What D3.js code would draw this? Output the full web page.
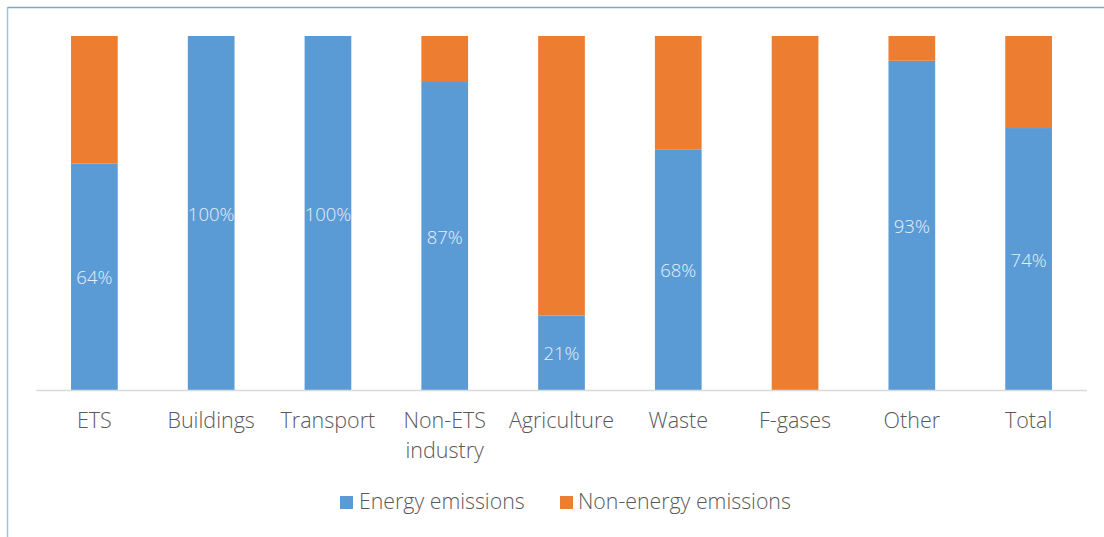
<!DOCTYPE html>
<html><head><meta charset="utf-8">
<script src="https://cdn.jsdelivr.net/npm/d3@7"></script>
<style>body{margin:0;background:#fff;} text{font-family:"Open Sans",sans-serif;}</style>
</head><body>
<svg id="c" width="1104" height="537"></svg>
<script>
const categories = ["ETS","Buildings","Transport","Non-ETS industry","Agriculture","Waste","F-gases","Other","Total"];
const energy = [64,100,100,87,21,68,0,93,74];
const nonEnergy = [36,0,0,13,79,32,100,7,26];
const seriesNames = ["Energy emissions","Non-energy emissions"];
const colors = ["#5b9bd5","#ed7d31"];

const svg = d3.select("#c");
// frame
svg.append("line").attr("x1",7.5).attr("x2",1104).attr("y1",7.5).attr("y2",7.5).attr("stroke","#7ea9c4").attr("stroke-width",1.5);
svg.append("line").attr("x1",7.5).attr("x2",7.5).attr("y1",7).attr("y2",537).attr("stroke","#9cc3da").attr("stroke-width",1.5);

const x = d3.scaleBand().domain(categories).range([36,1087]).paddingInner(0.6).paddingOuter(0.3);
const y = d3.scaleLinear().domain([0,100]).range([390,36]);

const data = categories.map((c,i)=>({cat:c, energy:energy[i], nonEnergy:nonEnergy[i]}));
const stack = d3.stack().keys(["energy","nonEnergy"])(data);

stack.forEach((s,k)=>{
  svg.append("g").selectAll("rect").data(s).join("rect")
    .attr("x",d=>x(d.data.cat)).attr("width",x.bandwidth())
    .attr("y",d=>y(d[1])).attr("height",d=>y(d[0])-y(d[1]))
    .attr("fill",colors[k]);
});

// axis
svg.append("line").attr("x1",36).attr("x2",1087).attr("y1",390.5).attr("y2",390.5).attr("stroke","#d9d9d9").attr("stroke-width",1.5);

// data labels
svg.append("g").selectAll("text").data(data.filter(d=>d.energy>0)).join("text")
  .attr("x",d=>x(d.cat)+x.bandwidth()/2).attr("y",d=>(y(0)+y(d.energy))/2)
  .attr("text-anchor","middle").attr("dominant-baseline","central")
  .attr("fill","#e6eef6").attr("font-size",18.5).attr("font-weight",300)
  .text(d=>d.energy+"%");

// category labels
const lines = {"Non-ETS industry":["Non-ETS","industry"]};
const g = svg.append("g");
categories.forEach(c=>{
  const t = g.append("text").attr("x",x(c)+x.bandwidth()/2).attr("y",428)
    .attr("text-anchor","middle").attr("fill","#595959").attr("font-size",21.5).attr("font-weight",300);
  (lines[c]||[c]).forEach((l,i)=>t.append("tspan").attr("x",x(c)+x.bandwidth()/2).attr("dy",i?30:0).text(l));
});

// legend
const leg = [{x:340,tx:359},{x:560,tx:578}];
seriesNames.forEach((n,i)=>{
  svg.append("rect").attr("x",leg[i].x).attr("y",496).attr("width",13).attr("height",13).attr("fill",colors[i]);
  svg.append("text").attr("x",leg[i].tx).attr("y",509).attr("fill","#595959").attr("font-size",21.3).attr("font-weight",300).text(n);
});
</script>
</body></html>
